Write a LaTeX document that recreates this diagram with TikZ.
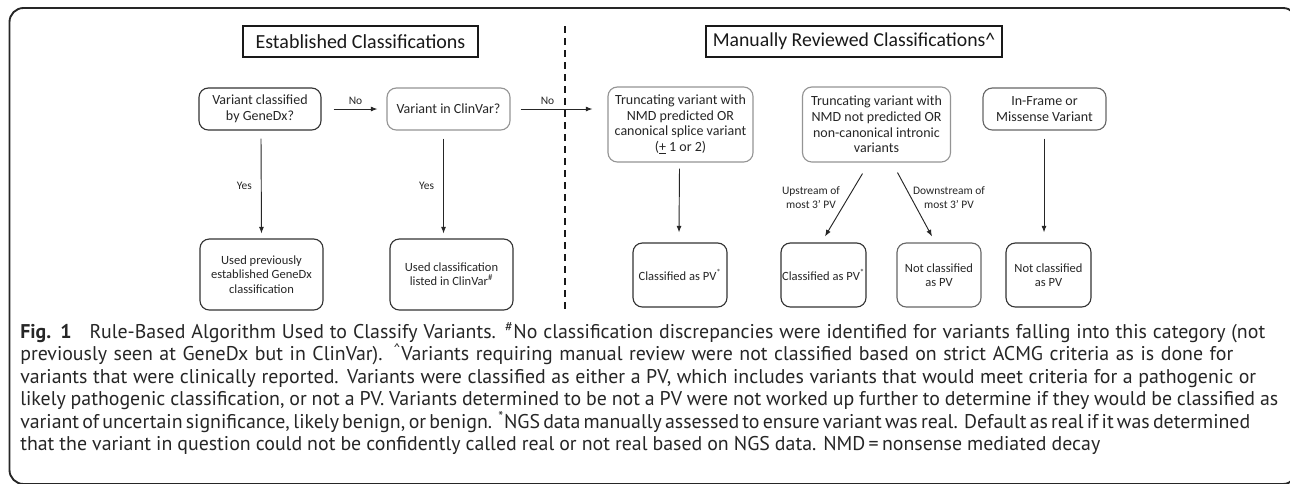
\documentclass[tikz,border=0pt]{standalone}
\usepackage{fontspec}
\setmainfont{Carlito}
\newfontfamily\capfont{PT Sans}
\usetikzlibrary{arrows.meta,calc}
\newdimen\pxl \pxl=0.75pt
\newcommand{\capfill}[2]{\hbox to #1\pxl{\spaceskip=0.26em plus 1fil minus 0.13em\relax #2}}
\begin{document}
\begin{tikzpicture}[x=0.75pt,y=-0.75pt,
  boxbase/.style={rounded corners=7pt, line width=0.85pt, align=center, inner sep=0pt, text=black!85},
  dbox/.style={boxbase, draw=black!80},
  lbox/.style={boxbase, draw=black!42},
  mbox/.style={boxbase, draw=black!60},
  bigtxt/.style={font=\fontsize{10.5}{11.8}\selectfont},
  smalltxt/.style={font=\fontsize{9.4}{10.7}\selectfont},
  lbl/.style={font=\fontsize{8.6}{10.5}\selectfont, text=black!85, inner sep=0pt, align=center},
  hdr/.style={draw=black!90, line width=0.8pt, font=\fontsize{15}{17}\selectfont, inner sep=0pt, text=black!90},
  arr/.style={-{Latex[length=5pt,width=3.8pt]}, line width=0.7pt, draw=black!85},
  capline/.style={anchor=base west, inner sep=0pt, font=\capfont\fontsize{14.9}{17}\selectfont, text=black!85}
]
\useasboundingbox (0,0) rectangle (1290,483);
\clip (0,0) rectangle (1290,483);
\fill[white] (0,0) rectangle (1290,483);
% outer frame
\draw[black!85, line width=1.4pt, rounded corners=10.5pt] (9.5,8) rectangle (1297,484);

% headers
\node[hdr, minimum width=235\pxl, minimum height=31\pxl] (h1) at (360.5,41.5) {Established Classifications};
\node[hdr, font=\fontsize{14.8}{17}\selectfont, minimum width=296\pxl, minimum height=31\pxl] (h2) at (854,41.5) {Manually Reviewed Classifications\textasciicircum};

% separator
\coordinate (s1) at (565,26);
\coordinate (s2) at (565,310);
\draw[black!90, line width=0.8pt, dash pattern=on 5.5pt off 3.5pt] (s1) -- (s2);

% top row
\node[dbox, bigtxt, minimum width=122\pxl, minimum height=42\pxl] (A) at (260,109) {Variant classified\\by GeneDx?};
\node[lbox, bigtxt, minimum width=123\pxl, minimum height=42\pxl] (B) at (448.5,109) {Variant in ClinVar?};
\node[lbox, bigtxt, minimum width=145\pxl, minimum height=75\pxl] (C) at (680.5,124.5) {Truncating variant with\\NMD predicted OR\\canonical splice variant\\(\underline{+} 1 or 2)};
\node[lbox, bigtxt, minimum width=148\pxl, minimum height=75\pxl] (D) at (876.5,124.5) {Truncating variant with\\NMD not predicted OR\\non-canonical intronic\\variants};
\node[mbox, bigtxt, minimum width=123\pxl, minimum height=42\pxl] (E) at (1044.5,109) {In-Frame or\\Missense Variant};

% bottom row
\node[dbox, smalltxt, minimum width=123\pxl, minimum height=71\pxl] (F) at (261.5,274.5) {Used previously\\established GeneDx\\classification};
\node[dbox, smalltxt, minimum width=123\pxl, minimum height=71\pxl] (G) at (451.5,274.5) {Used classification\\listed in ClinVar\textsuperscript{\#}};
\node[dbox, smalltxt, minimum width=94\pxl, minimum height=64\pxl] (H) at (680,275) {Classified as PV\textsuperscript{*}};
\node[dbox, smalltxt, minimum width=85\pxl, minimum height=64\pxl] (I) at (823.5,275) {Classified as PV\textsuperscript{*}};
\node[mbox, smalltxt, minimum width=84\pxl, minimum height=64\pxl] (J) at (939,275) {Not classified\\as PV};
\node[dbox, smalltxt, minimum width=85\pxl, minimum height=64\pxl] (K) at (1048.5,275) {Not classified\\as PV};

% connectors
\draw[arr] ($(A.east)+(12,0)$) -- node[lbl, above=4\pxl] {No} ($(B.west)+(-9,0)$);
\draw[arr] ($(B.east)+(10,0)$) -- node[lbl, above=4\pxl, xshift=-9\pxl] {No} ($(C.west)+(-15,-15.5)$);
\draw[arr] ($(A.south)+(1,8)$) -- node[lbl, left=9\pxl] {Yes} ($(F.north)+(0,-5)$);
\draw[arr] ($(B.south)+(-5,8)$) -- node[lbl, left=9\pxl] {Yes} ($(G.north)+(-8,-5)$);
\draw[arr] ($(C.south)+(-1,6)$) -- ($(H.north)+(-1,-10)$);
\draw[arr] ($(D.south)+(-14,11)$) -- ($(I.north)+(1.5,-6)$);
\draw[arr] ($(D.south)+(21,10)$) -- ($(J.north)+(-7,-6)$);
\draw[arr] ($(E.south)+(-0.5,8)$) -- ($(K.north)+(-4.5,-10)$);
\node[lbl] (up) at (811,198) {Upstream of\\most 3’ PV};
\node[lbl] (down) at (949,198) {Downstream of\\most 3’ PV};

% caption
\node[capline] (c1) at (20,338) {\capfill{1245}{\textbf{Fig. 1}\hspace{0.6em} Rule-Based Algorithm Used to Classify Variants. \textsuperscript{\#}No classification discrepancies were identified for variants falling into this category (not}};
\node[capline] (c2) at (20,360.5) {\capfill{1213}{previously seen at GeneDx but in ClinVar). \textsuperscript{\textasciicircum}Variants requiring manual review were not classified based on strict ACMG criteria as is done for}};
\node[capline] (c3) at (20,383) {\capfill{1236}{variants that were clinically reported. Variants were classified as either a PV, which includes variants that would meet criteria for a pathogenic or}};
\node[capline] (c4) at (20,405.5) {\capfill{1258}{likely pathogenic classification, or not a PV. Variants determined to be not a PV were not worked up further to determine if they would be classified as}};
\node[capline] (c5) at (20,428) {\capfill{1230}{variant of uncertain significance, likely benign, or benign. \textsuperscript{*}NGS data manually assessed to ensure variant was real. Default as real if it was determined}};
\node[capline] (c6) at (20,450.5) {\capfill{1080}{that the variant in question could not be confidently called real or not real based on NGS data. NMD\,=\,nonsense mediated decay}};
\end{tikzpicture}
\end{document}
